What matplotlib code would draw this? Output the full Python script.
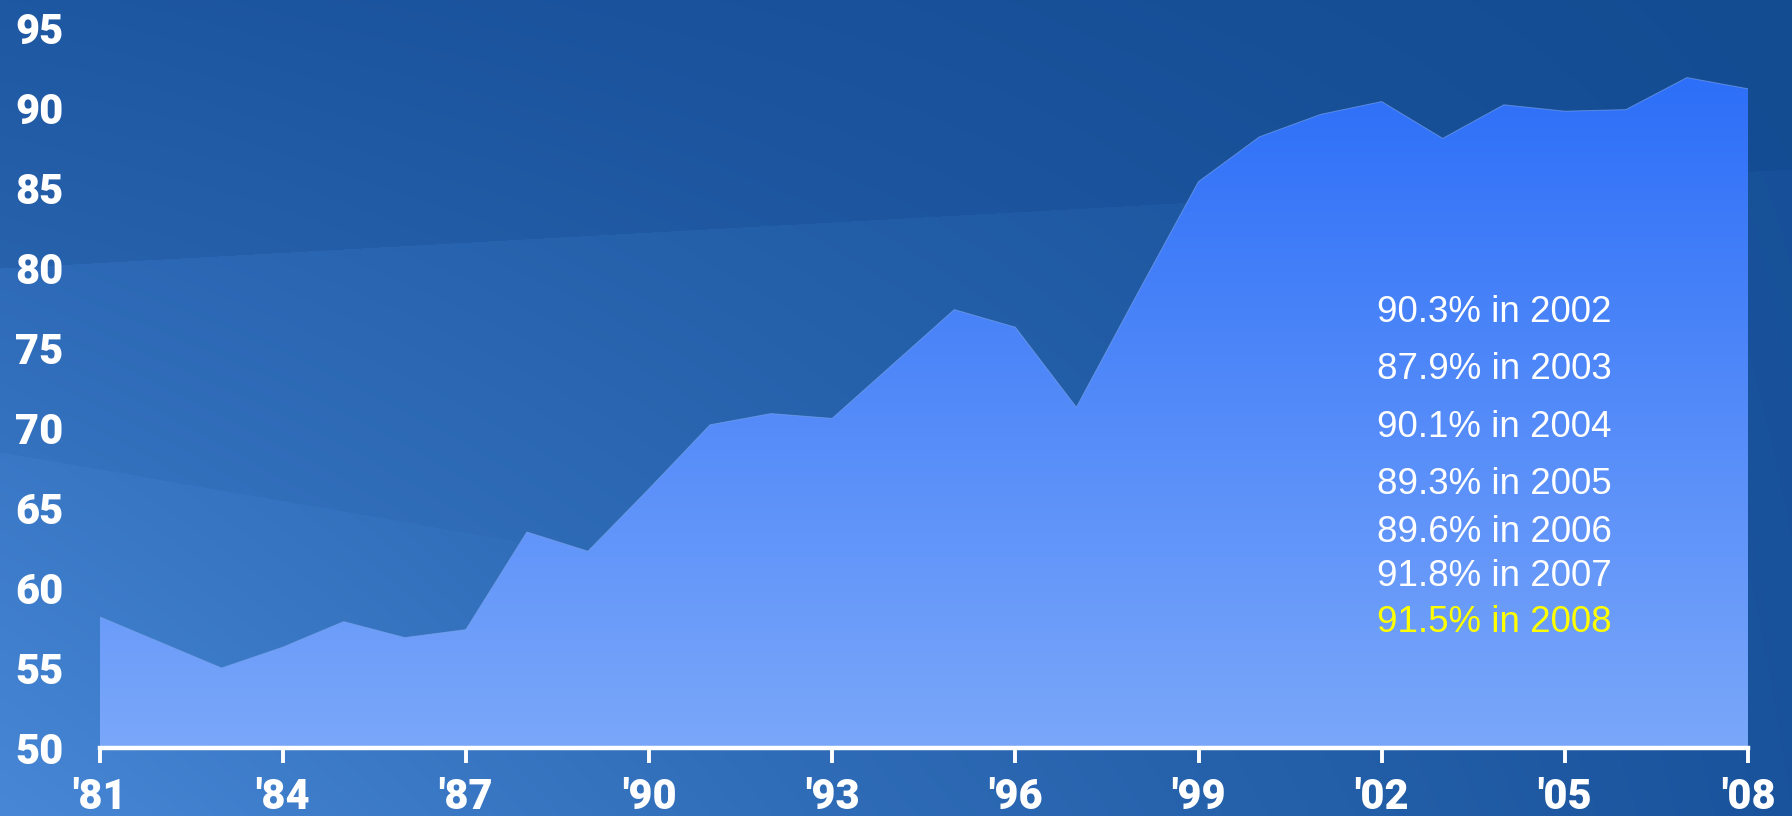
import numpy as np
import matplotlib
matplotlib.use('Agg')
import matplotlib.pyplot as plt

# ---- data ----
years = list(range(1981, 2009))
rates = [58.2, 56.6, 55.0, 56.3, 57.9, 56.9, 57.4, 63.5, 62.3, 66.2,
         70.2, 70.9, 70.6, 74.0, 77.4, 76.3, 71.3, 78.4, 85.4, 88.2,
         89.6, 90.4, 88.1, 90.2, 89.8, 89.9, 91.9, 91.2]
xtick_years = [1981, 1984, 1987, 1990, 1993, 1996, 1999, 2002, 2005, 2008]
xtick_labels = ["'81", "'84", "'87", "'90", "'93", "'96", "'99", "'02", "'05", "'08"]
ytick_values = [50, 55, 60, 65, 70, 75, 80, 85, 90, 95]
note_texts = ["90.3% in 2002", "87.9% in 2003", "90.1% in 2004", "89.3% in 2005",
              "89.6% in 2006", "91.8% in 2007", "91.5% in 2008"]
note_colors = ["white"] * 6 + ["#ffff00"]
note_y = [76.64, 73.06, 69.46, 65.88, 62.89, 60.13, 57.27]
note_x = 2001.92

W, H = 1792, 816
fig = plt.figure(figsize=(W / 100, H / 100), dpi=100)

# ---- background gradient ----
yy, xx = np.mgrid[0:H, 0:W]
u = xx / (W - 1)
v = yy / (H - 1)
TL = np.array([30, 87, 162]); TR = np.array([20, 76, 146])
BL = np.array([60, 121, 196]); BR = np.array([22, 79, 151])
bg = ((1 - u)[..., None] * (1 - v)[..., None] * TL + u[..., None] * (1 - v)[..., None] * TR
      + (1 - u)[..., None] * v[..., None] * BL + u[..., None] * v[..., None] * BR)
line1 = 268 - (268 - 169) * u
bg += (yy > line1)[..., None] * np.array([6, 8, 10]) * (1 - 0.5 * u)[..., None]
line2 = 452 + (560 - 452) * u / 0.35
mask2 = (yy > line2) & (u < 0.5)
bg += mask2[..., None] * np.array([5, 6, 7]) * np.clip(1 - u / 0.5, 0, 1)[..., None]
bg = np.clip(bg, 0, 255) / 255.0
bax = fig.add_axes([0, 0, 1, 1], zorder=-5)
bax.imshow(bg, aspect='auto', extent=[0, 1, 0, 1], interpolation='bilinear')
bax.axis('off')

# ---- main axes ----
left = 99.5 / W
bottom = 1 - 748 / H
ax = fig.add_axes([left, bottom, (1748 - 99.5) / W, (748 - 28) / H])
ax.set_facecolor('none')
ax.set_xlim(1981, 2008)
ax.set_ylim(50, 95)

poly = ax.fill_between(years, rates, 50, facecolor='none', edgecolor='none')
top_c = np.array([44, 110, 248]) / 255
bot_c = np.array([122, 167, 250]) / 255
ng = 256
t = np.linspace(0, 1, ng)[:, None]
grad = (1 - t) * top_c + t * bot_c
grad = np.repeat(grad[:, None, :], 2, axis=1)
im = ax.imshow(grad, aspect='auto', extent=[1981, 2008, 50, 92.5],
               interpolation='bilinear', zorder=1)
im.set_clip_path(poly.get_paths()[0], transform=ax.transData)
ax.plot(years, rates, color='#7ea6ee', lw=0.7, alpha=0.6, zorder=2)

for s in ['top', 'right', 'left']:
    ax.spines[s].set_visible(False)
ax.spines['bottom'].set_color('white')
ax.spines['bottom'].set_linewidth(3.2)
ax.spines['bottom'].set_zorder(3)

tick_font = dict(family=['Roboto', 'DejaVu Sans'], weight='black', size=30)
ax.set_xticks(xtick_years)
ax.set_xticklabels(xtick_labels, **tick_font)
ax.set_yticks(ytick_values)
ax.set_yticklabels([str(v) for v in ytick_values], **tick_font)
ax.tick_params(axis='x', colors='white', length=10.5, width=2.8, pad=10.5, direction='out')
ax.tick_params(axis='y', colors='white', length=0, pad=26)

for txt, col, yv in zip(note_texts, note_colors, note_y):
    ax.text(note_x, yv, txt, color=col, fontsize=26.5,
            family=['Liberation Sans', 'DejaVu Sans'], va='baseline', ha='left', zorder=4)

fig.savefig('out.png', dpi=100)
